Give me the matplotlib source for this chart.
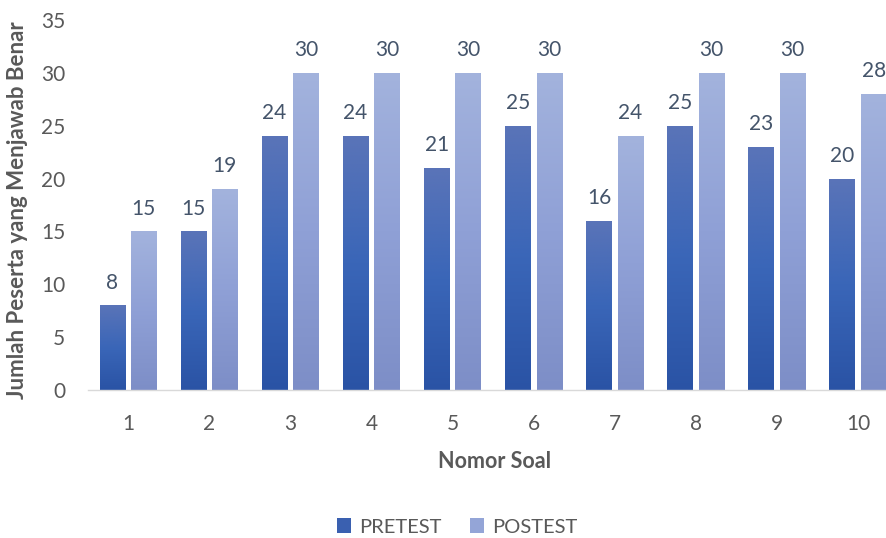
import numpy as np
import matplotlib
matplotlib.use("Agg")
import matplotlib.pyplot as plt
from matplotlib.colors import LinearSegmentedColormap
from matplotlib.patches import Patch

plt.rcParams['font.family'] = ['Lato', 'DejaVu Sans']

categories = ['1', '2', '3', '4', '5', '6', '7', '8', '9', '10']
pretest = [8, 15, 24, 24, 21, 25, 16, 25, 23, 20]
postest = [15, 19, 30, 30, 30, 30, 24, 30, 30, 28]
yticks = [0, 5, 10, 15, 20, 25, 30, 35]

W, H = 886, 538
fig = plt.figure(figsize=(W / 100, H / 100), dpi=100)
left, right = 87.5 / W, 898.5 / W
top, bottom = 20 / H, 390 / H
ax = fig.add_axes([left, 1 - bottom, right - left, bottom - top])

x = np.arange(len(categories))
bw = 0.315
off = 0.194
text_col = '#595959'
lab_col = '#44546A'
fs = 15

pre_cmap = LinearSegmentedColormap.from_list('pre', ['#2A53A5', '#3A66B8', '#5A74B8'])
post_cmap = LinearSegmentedColormap.from_list('post', ['#7D8EC7', '#8FA0D6', '#A3B3DD'])

def grad_bars(xs, vals, cmap):
    bars = ax.bar(xs, vals, bw, color='none', edgecolor='none', zorder=2)
    for b, v in zip(bars, vals):
        xl = b.get_x()
        grad = np.linspace(0, 1, 256).reshape(-1, 1)
        im = ax.imshow(grad, cmap=cmap, origin='lower', aspect='auto',
                       extent=[xl, xl + bw, 0, v], zorder=2, interpolation='bicubic')
        im.set_clip_path(b)
    return bars

grad_bars(x - off, pretest, pre_cmap)
grad_bars(x + off, postest, post_cmap)

for xi, v in zip(x - off, pretest):
    ax.text(xi, v + 1.6, str(v), ha='center', va='baseline', fontsize=fs, color=lab_col)
for xi, v in zip(x + off, postest):
    ax.text(xi, v + 1.6, str(v), ha='center', va='baseline', fontsize=fs, color=lab_col)

ax.set_xlim(-0.5, len(categories) - 0.5)
ax.set_ylim(0, 35)
ax.set_xticks(x)
ax.set_xticklabels(categories)
ax.set_yticks(yticks)
ax.tick_params(axis='both', length=0, labelsize=fs, colors=text_col)
ax.tick_params(axis='x', pad=17)
ax.tick_params(axis='y', pad=16)
for s in ['top', 'right', 'left']:
    ax.spines[s].set_visible(False)
ax.spines['bottom'].set_color('#D9D9D9')
ax.spines['bottom'].set_linewidth(1)

fig.text(495 / W, 1 - 461 / H, 'Nomor Soal', ha='center', va='center',
         fontsize=15.5, fontweight='bold', color=text_col)
fig.text(18 / W, 1 - 210 / H, 'Jumlah Peserta yang Menjawab Benar', ha='center', va='center',
         rotation=90, fontsize=16, fontweight='bold', color=text_col)

handles = [Patch(facecolor='#3A60B0', label='PRETEST'),
           Patch(facecolor='#94A5D7', label='POSTEST')]
fig.legend(handles=handles, loc='center', bbox_to_anchor=(457 / W, 1 - 527 / H), ncol=2,
           frameon=False, fontsize=14.5, handlelength=0.7, handleheight=0.7,
           handletextpad=0.4, columnspacing=1.4, labelcolor=text_col)

fig.savefig('out.png', dpi=100)
